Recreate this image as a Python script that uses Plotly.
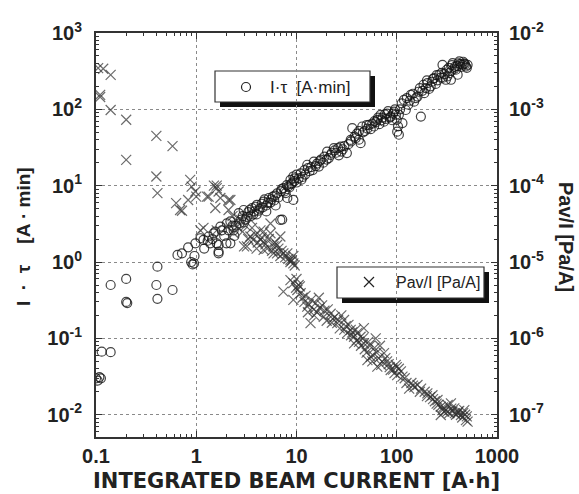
import plotly.graph_objects as go

# ---------------- data ----------------
# I*tau [A*min] (left axis), open circles
circ_x = [0.100, 0.104, 0.108, 0.112, 0.114, 0.14, 0.14, 0.20, 0.205, 0.20, 0.41, 0.40, 0.41, 0.58,
          0.65, 0.72, 0.89, 0.95, 0.96, 0.92, 0.83, 0.98, 1.1, 1.18, 1.33, 1.38, 1.49, 1.6, 1.67, 1.67,
          1.67, 1.74, 1.8, 2.02, 2.0, 2.19, 2.19, 2.36, 2.65, 2.97, 3.2, 3.6, 4.02, 4.7, 5.3, 6.4, 6.9,
          7.2, 7.4, 8.7, 9.3, 8.1, 9.3,
          2.5, 2.8, 3.0, 3.3, 3.5, 3.8, 4.0, 4.3, 4.5, 5.0, 5.0, 5.5, 5.8, 6.0, 6.2, 7.0, 7.8, 8.0, 8.5,
          9.0, 9.6, 10.0, 10.0,
          10.5, 11, 11.5, 12, 12.8, 13.5, 14, 14.9, 15.5, 16.7, 17.5, 18.5, 20.2, 21, 21.9, 23.6, 25,
          26.4, 27.5, 29, 31.8, 33, 34.7, 36, 38, 40, 41.9, 43.6, 45.3, 48, 50, 52.9, 55, 59.4, 62, 64,
          67, 69, 72, 74.6, 78, 80, 87, 90, 94, 98, 100, 103, 105, 101, 105,
          108, 114, 118, 123, 130, 138, 149, 155, 161, 174, 180, 188, 195, 202, 210, 218, 225, 236,
          245, 255, 265, 275, 286, 300, 309, 320, 334, 347, 361, 375, 389, 405, 421, 440, 454, 470,
          490, 509, 400, 350,
          1.2, 1.3, 1.45, 1.55, 1.9, 2.1, 2.3, 2.4, 2.7, 2.9, 3.1, 3.4, 3.7, 3.9, 4.2, 4.6, 4.8, 5.2,
          5.6, 6.1, 6.6, 7.1, 7.6, 8.3, 8.9, 9.5, 11.2, 12.2, 13, 14.5, 16, 17, 19, 20, 22.5, 24, 26,
          28, 30, 35, 39, 42, 46, 51, 57, 60, 65, 70, 76, 82, 85, 92, 96, 112, 126, 135, 145, 165,
          170, 185, 200, 230, 250, 280, 290, 315, 330, 355, 380, 410, 430, 460, 480, 500]
circ_y = [0.030, 0.028, 0.031, 0.030, 0.067, 0.066, 0.50, 0.60, 0.29, 0.30, 0.87, 0.50, 0.33, 0.43,
          1.24, 1.30, 1.0, 0.96, 1.2, 0.93, 1.56, 1.76, 2.05, 1.95, 2.16, 1.76, 2.38, 1.76, 1.37, 1.3,
          1.67, 2.9, 2.6, 3.2, 1.76, 3.4, 1.76, 2.6, 4.37, 4.8, 3.9, 5.07, 5.6, 6.2, 6.9, 7.95, 3.56,
          3.6, 9.3, 11.9, 13.2, 6.9, 6.5,
          3.0, 3.6, 3.3, 4.5, 4.0, 4.6, 4.2, 5.0, 5.8, 5.5, 4.6, 6.0, 7.2, 6.4, 5.5, 8.5, 8.0, 10.2, 9.5,
          10.8, 12.5, 11.0, 14.0,
          12.5, 14.5, 13, 16, 18.8, 15.5, 17.5, 20.7, 18, 17.8, 22, 20, 28, 23, 25.3, 31, 27,
          25, 32.5, 30, 26.7, 35, 39.8, 56.7, 44, 48, 40, 36, 59.6, 52, 62, 62.7, 55, 59.6, 68, 72.8,
          64, 84.7, 78, 69, 75, 88, 80.5, 72, 93.5, 85, 73, 60, 85, 51, 46.5,
          100, 66, 133, 98, 115, 155, 126, 140, 147, 80.5, 175, 163, 190, 220, 185, 200, 230, 257,
          215, 240, 284, 260, 383, 290, 244, 270, 298, 244, 404, 340, 330, 284, 424, 360, 383, 400,
          364, 383, 370, 320,
          1.5, 1.9, 2.0, 2.5, 2.2, 2.6, 3.0, 2.2, 3.2, 4.0, 3.6, 4.8, 4.2, 5.3, 4.7, 5.2, 6.6, 6.0,
          6.6, 7.4, 7.0, 9.0, 8.4, 9.8, 10.5, 11.5, 12, 14, 17, 16, 19.5, 21, 24, 22, 27, 29, 31,
          28, 33, 38, 42, 52, 50, 56, 65, 70, 78, 72, 86, 95, 78, 88, 100, 120, 140, 130, 160, 170,
          190, 210, 240, 250, 280, 300, 260, 330, 350, 380, 360, 400, 390, 420, 390, 350]

# Pav/I [Pa/A] (right axis), crosses
cross_x = [0.105, 0.118, 0.14, 0.11, 0.11, 0.14, 0.2, 0.2, 0.40, 0.58, 0.40, 0.41, 0.63, 0.69, 0.72,
           0.87, 0.9, 0.98, 1.0, 0.83, 1.18, 1.33, 1.6, 1.67, 1.55, 1.74, 2.1, 2.19, 2.1, 1.1, 1.6,
           2.02, 2.36, 2.55, 2.75, 3.47, 4.37, 3.47, 3.7, 3.2, 3.0, 4.37, 4.0, 4.7, 4.7, 4.7, 5.5, 5.5,
           5.9, 5.9, 6.4, 6.4, 6.9, 6.9, 7.4, 8.1, 8.7, 8.7, 9.3, 9.3, 1.28, 1.5, 1.6,
           8.7, 9.3, 7.4, 10.2, 9.3, 11, 10.5, 10, 12.8, 14.9, 13.8, 16.7, 18.7, 21.9, 25.5, 29.8, 34.7,
           40.5, 47, 37.5, 32, 37.5, 43.6, 47, 51, 55, 61.7, 64, 71.6, 74.6, 87, 97.7, 110, 114, 101,
           133, 161, 202, 227, 255, 275, 298, 322, 375, 405, 472, 490, 437, 275, 347, 509,
           12, 13, 15.5, 17, 19, 20, 22.5, 24, 27, 28, 30, 33, 36, 40, 44, 48, 52, 58, 60, 66, 68, 80,
           85, 92, 105, 120, 140, 150, 175, 190, 215, 240, 260, 290, 310, 335, 360, 390, 420, 450, 480,
           2.3, 2.6, 2.9, 3.1, 3.3, 3.6, 3.9, 4.1, 4.5, 4.9, 5.1, 5.3, 5.7, 6.1, 6.6, 7.1, 7.7, 8.3,
           9.0, 9.6, 9.9, 10.8, 11.5, 12.3, 13.2, 14, 15, 16, 18, 20.5, 23, 26, 31, 35, 39, 42, 46,
           50, 54, 57, 63, 70, 77, 83, 95, 100, 125, 145, 170, 200, 230, 250, 285, 320, 350, 380,
           410, 460, 500]
cross_y = [3.47e-3, 3.4e-3, 2.83e-3, 1.55e-3, 1.45e-3, 9.8e-4, 7.3e-4, 2.18e-4, 4.5e-4, 3.3e-4,
           1.32e-4, 8e-5, 5.9e-5, 4.8e-5, 4.7e-5, 1.19e-4, 9.7e-5, 8.4e-5, 7.2e-5, 6.5e-5, 2.8e-5,
           7.2e-5, 9.3e-5, 8.4e-5, 5.1e-5, 6.9e-5, 6.5e-5, 6.5e-5, 4.8e-5, 2.6e-5, 2.6e-5, 2.9e-5,
           2.38e-5, 2.9e-5, 3.6e-5, 3.6e-5, 2.6e-5, 2.16e-5, 1.95e-5, 1.6e-5, 1.6e-5, 1.95e-5, 1.5e-5,
           1.44e-5, 2.5e-5, 1.84e-5, 2.38e-5, 3.2e-5, 1.3e-5, 1.6e-5, 1.67e-5, 1.3e-5, 1.2e-5,
           2.16e-5, 1.3e-5, 1.3e-5, 1.0e-5, 1.07e-5, 1.2e-5, 9.6e-6, 7.2e-5, 1.0e-4, 1.0e-4,
           5.8e-6, 5.3e-6, 4.1e-6, 4.3e-6, 3.2e-6, 3.9e-6, 5.0e-6, 6.0e-6, 2.6e-6, 2.4e-6, 1.58e-6,
           3.4e-6, 1.92e-6, 2.1e-6, 1.58e-6, 1.74e-6, 1.29e-6, 1.18e-6, 8.6e-7, 1.05e-6, 1.17e-6,
           8.6e-7, 1.05e-6, 1.36e-6, 5.2e-7, 5.75e-7, 1.0e-6, 4.26e-7, 4.95e-7, 6.4e-7, 3.85e-7,
           4.5e-7, 3.7e-7, 3.15e-7, 3.3e-7, 2.2e-7, 2.45e-7, 1.9e-7, 1.8e-7, 1.56e-7, 1.27e-7,
           1.1e-7, 1.34e-7, 1.21e-7, 1.04e-7, 1.15e-7, 8.5e-8, 9.9e-8, 9.9e-8, 1.41e-7, 8.1e-8,
           3.0e-6, 2.2e-6, 2.9e-6, 2.5e-6, 2.3e-6, 1.7e-6, 1.6e-6, 1.9e-6, 1.35e-6, 2.0e-6, 1.3e-6,
           1.5e-6, 1.2e-6, 9.5e-7, 8.0e-7, 7.2e-7, 9.0e-7, 6.0e-7, 7.5e-7, 5.5e-7, 8.0e-7, 5.0e-7,
           4.2e-7, 3.9e-7, 4.0e-7, 3.0e-7, 2.6e-7, 2.3e-7, 2.2e-7, 2.0e-7, 1.7e-7, 1.5e-7, 1.35e-7,
           1.25e-7, 1.15e-7, 1.05e-7, 1.1e-7, 1.0e-7, 1.12e-7, 9.2e-8, 1.0e-7,
           4.0e-5, 3.3e-5, 2.5e-5, 3.0e-5, 2.0e-5, 2.8e-5, 2.3e-5, 1.8e-5, 2.1e-5, 1.7e-5, 1.5e-5,
           2.0e-5, 1.4e-5, 1.8e-5, 1.5e-5, 1.4e-5, 1.15e-5, 1.1e-5, 1.05e-5, 9.0e-6, 4.6e-6, 4.8e-6,
           3.4e-6, 3.6e-6, 2.8e-6, 3.2e-6, 2.0e-6, 2.2e-6, 2.7e-6, 2.4e-6, 1.8e-6, 1.75e-6, 1.45e-6,
           1.1e-6, 1.3e-6, 9.0e-7, 1.0e-6, 6.5e-7, 8.0e-7, 5.0e-7, 6.5e-7, 4.5e-7, 5.5e-7, 4.6e-7,
           3.5e-7, 4.2e-7, 2.6e-7, 2.4e-7, 2.0e-7, 1.75e-7, 1.6e-7, 1.4e-7, 1.15e-7, 1.1e-7, 1.2e-7,
           1.05e-7, 1.1e-7, 1.05e-7, 9.5e-8]

x_tickvals = [0.1, 1, 10, 100, 1000]
x_ticktext = ["0.1", "1", "10", "100", "1000"]
yl_tickvals = [1e-2, 1e-1, 1, 10, 100, 1000]
yl_ticktext = ["10<sup>-2</sup>", "10<sup>-1</sup>", "10<sup>0</sup>", "10<sup>1</sup>",
               "10<sup>2</sup>", "10<sup>3</sup>"]
yr_tickvals = [1e-7, 1e-6, 1e-5, 1e-4, 1e-3, 1e-2]
yr_ticktext = ["10<sup>-7</sup>", "10<sup>-6</sup>", "10<sup>-5</sup>", "10<sup>-4</sup>",
               "10<sup>-3</sup>", "10<sup>-2</sup>"]

legend1_label = "I·τ&nbsp;&nbsp;[A·min]"
legend2_label = "Pav/I [Pa/A]"
x_title = "INTEGRATED BEAM CURRENT [A·h]"
yl_title = "I&nbsp;&nbsp;·&nbsp;&nbsp;τ&nbsp;&nbsp;&nbsp;&nbsp;[A · min]"
yr_title = "Pav/I [Pa/A]"

# ---------------- layout geometry ----------------
W, H = 579, 494
L, R, T, B = 96, 497, 33, 437
FONT = "Liberation Sans"
INK = "#222222"


def px(x):
    return (x - L) / (R - L)


def py(y):
    return (B - y) / (B - T)


minor_x = [k * 10 ** e for e in range(-1, 3) for k in range(2, 10)]
minor_yl = [k * 10 ** e for e in range(-3, 3) for k in range(2, 10)]
minor_yr = [k * 10 ** e for e in range(-8, -2) for k in range(2, 10)]

fig = go.Figure()

fig.add_trace(go.Scatter(
    x=circ_x, y=circ_y, mode="markers", name="I·τ [A·min]", showlegend=False,
    marker=dict(symbol="circle-open", size=9, color="rgba(20,20,20,0.8)",
                line=dict(width=1.2, color="rgba(20,20,20,0.8)")),
    xaxis="x", yaxis="y"))

fig.add_trace(go.Scatter(
    x=cross_x, y=cross_y, mode="markers", name="Pav/I [Pa/A]", showlegend=False,
    marker=dict(symbol="x-thin-open", size=10, color="rgba(50,50,50,0.72)",
                line=dict(width=1.2, color="rgba(50,50,50,0.72)")),
    xaxis="x", yaxis="y2"))

# legend symbols on a hidden pixel-space overlay
fig.add_trace(go.Scatter(
    x=[246], y=[87], mode="markers", showlegend=False, hoverinfo="skip",
    marker=dict(symbol="circle-open", size=9, color=INK, line=dict(width=1.2, color=INK)),
    xaxis="x2", yaxis="y3"))
fig.add_trace(go.Scatter(
    x=[369], y=[282], mode="markers", showlegend=False, hoverinfo="skip",
    marker=dict(symbol="x-thin-open", size=10, color=INK, line=dict(width=1.2, color=INK)),
    xaxis="x2", yaxis="y3"))

tickfont = dict(family=FONT, size=20, color=INK)
grid = dict(showgrid=True, gridcolor="#8a8a8a", gridwidth=1, griddash="dot")

fig.update_layout(
    template="none",
    width=W, height=H,
    margin=dict(l=L, r=W - R, t=T, b=H - B, pad=0, autoexpand=False),
    paper_bgcolor="white", plot_bgcolor="white",
    font=dict(family=FONT, color=INK),
    xaxis=dict(type="log", range=[-1, 3], tickmode="array", tickvals=x_tickvals,
               ticktext=["<b>%s</b>" % t for t in x_ticktext], tickfont=tickfont,
               ticks="inside", ticklen=6, tickwidth=1.2, tickcolor="#333",
               showline=True, linecolor="#333", linewidth=2, mirror="ticks",
               ticklabelstandoff=0, automargin=False,
               minor=dict(tickmode="array", tickvals=minor_x, ticks="inside", ticklen=3,
                          tickcolor="#333", showgrid=False),
               zeroline=False, **grid),
    yaxis=dict(type="log", range=[-2.292, 3], tickmode="array", tickvals=yl_tickvals,
               ticktext=["<b>%s</b>" % t for t in yl_ticktext], tickfont=tickfont,
               ticks="inside", ticklen=6, tickwidth=1.2, tickcolor="#333",
               showline=True, linecolor="#333", linewidth=2, mirror=True,
               ticklabelstandoff=8, automargin=False,
               minor=dict(tickmode="array", tickvals=minor_yl, ticks="inside", ticklen=3,
                          tickcolor="#333", showgrid=False),
               zeroline=False, **grid),
    yaxis2=dict(type="log", range=[-7.292, -2], overlaying="y", side="right",
                tickmode="array", tickvals=yr_tickvals,
                ticktext=["<b>%s</b>" % t for t in yr_ticktext], tickfont=tickfont,
                ticks="inside", ticklen=6, tickwidth=1.2, tickcolor="#333",
                showline=True, linecolor="#333", linewidth=2,
                ticklabelstandoff=6, automargin=False,
                minor=dict(tickmode="array", tickvals=minor_yr, ticks="inside", ticklen=3,
                           tickcolor="#333", showgrid=False),
                showgrid=False, zeroline=False),
    xaxis2=dict(overlaying="x", type="linear", range=[L, R], visible=False, fixedrange=True,
                automargin=False),
    yaxis3=dict(overlaying="y", type="linear", range=[B, T], visible=False, fixedrange=True,
                automargin=False),
)

# legend boxes with drop shadows (between grid and traces)
shapes = []
for (x0, y0, x1, y1) in [(215, 71, 370, 102), (337, 267, 484, 298)]:
    shapes.append(dict(type="rect", xref="paper", yref="paper", layer="between",
                       x0=px(x0 + 5), x1=px(x1 + 5), y0=py(y1 + 5), y1=py(y0 + 5),
                       fillcolor="#111", line=dict(width=0)))
    shapes.append(dict(type="rect", xref="paper", yref="paper", layer="between",
                       x0=px(x0), x1=px(x1), y0=py(y1), y1=py(y0),
                       fillcolor="white", line=dict(width=1.2, color="#333")))
fig.update_layout(shapes=shapes)

ann = [
    dict(text=legend1_label, x=px(268), y=py(87), xref="paper", yref="paper",
         xanchor="left", yanchor="middle", showarrow=False,
         font=dict(family=FONT, size=17, color=INK)),
    dict(text=legend2_label, x=px(394), y=py(282), xref="paper", yref="paper",
         xanchor="left", yanchor="middle", showarrow=False,
         font=dict(family=FONT, size=16, color=INK)),
    dict(text="<b>%s</b>" % x_title, x=px(296), y=py(481), xref="paper", yref="paper",
         xanchor="center", yanchor="middle", showarrow=False,
         font=dict(family="DejaVu Sans", size=21, color=INK)),
    dict(text="<b>%s</b>" % yl_title, x=px(23), y=py(237), xref="paper", yref="paper",
         xanchor="center", yanchor="middle", showarrow=False, textangle=-90,
         font=dict(family=FONT, size=19, color=INK)),
    dict(text="<b>%s</b>" % yr_title, x=px(566), y=py(237), xref="paper", yref="paper",
         xanchor="center", yanchor="middle", showarrow=False, textangle=90,
         font=dict(family=FONT, size=20, color=INK)),
]
fig.update_layout(annotations=ann)

fig.write_html("out.html", config={"displayModeBar": False},
               post_script="document.body.style.margin='0px';document.body.style.padding='0px';")
